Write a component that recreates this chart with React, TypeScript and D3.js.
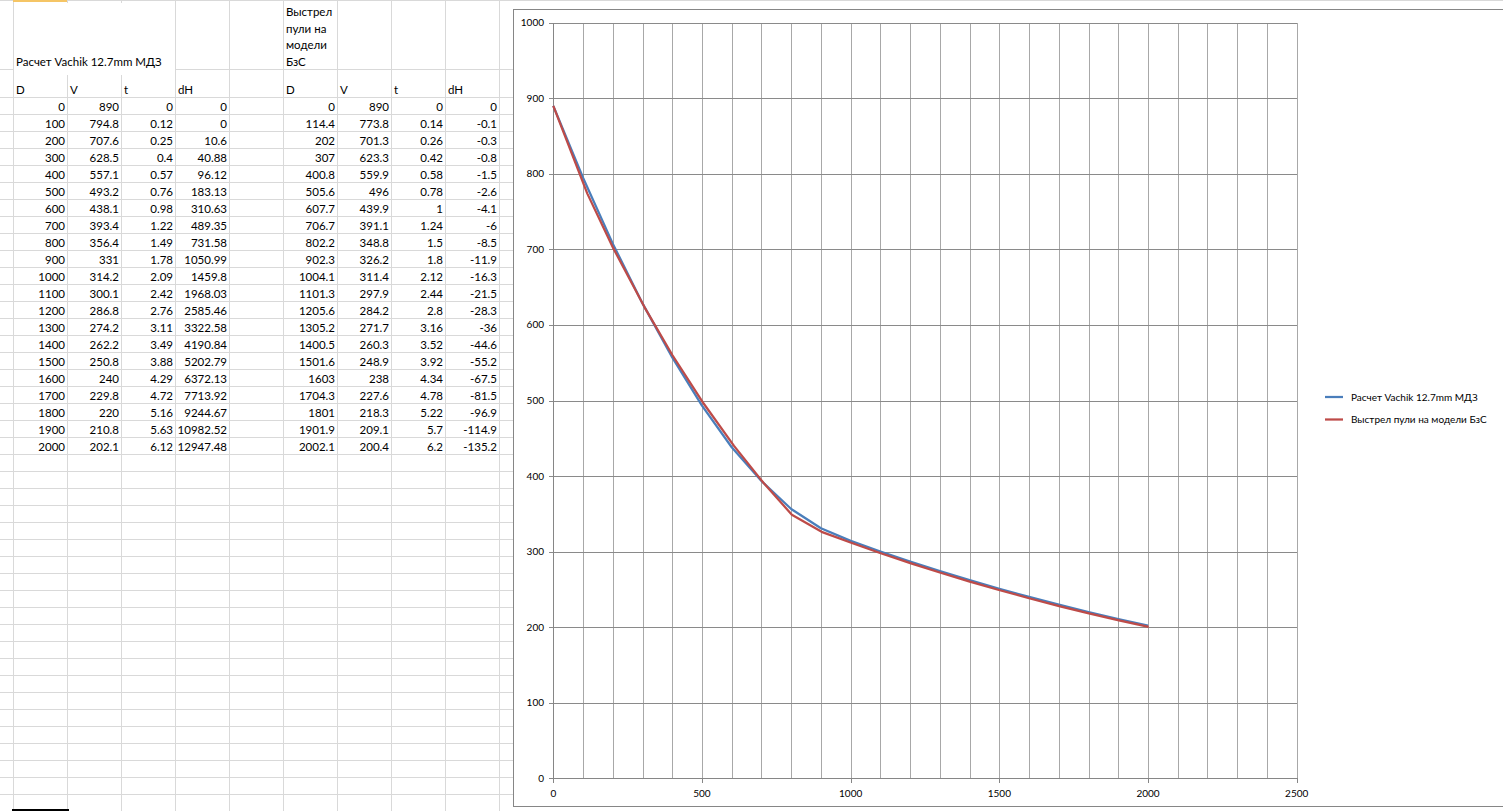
import React from "react";
import * as d3 from "d3";

const title1 = "Расчет Vachik 12.7mm МДЗ";
const title2 = "Выстрел пули на модели БзС";
const title2Lines = ["Выстрел", "пули на", "модели", "БзС"];
const headers = ["D", "V", "t", "dH"];

const D1 = [0, 100, 200, 300, 400, 500, 600, 700, 800, 900, 1000, 1100, 1200, 1300, 1400, 1500, 1600, 1700, 1800, 1900, 2000];
const V1 = [890, 794.8, 707.6, 628.5, 557.1, 493.2, 438.1, 393.4, 356.4, 331, 314.2, 300.1, 286.8, 274.2, 262.2, 250.8, 240, 229.8, 220, 210.8, 202.1];
const T1 = [0, 0.12, 0.25, 0.4, 0.57, 0.76, 0.98, 1.22, 1.49, 1.78, 2.09, 2.42, 2.76, 3.11, 3.49, 3.88, 4.29, 4.72, 5.16, 5.63, 6.12];
const DH1 = [0, 0, 10.6, 40.88, 96.12, 183.13, 310.63, 489.35, 731.58, 1050.99, 1459.8, 1968.03, 2585.46, 3322.58, 4190.84, 5202.79, 6372.13, 7713.92, 9244.67, 10982.52, 12947.48];

const D2 = [0, 114.4, 202, 307, 400.8, 505.6, 607.7, 706.7, 802.2, 902.3, 1004.1, 1101.3, 1205.6, 1305.2, 1400.5, 1501.6, 1603, 1704.3, 1801, 1901.9, 2002.1];
const V2 = [890, 773.8, 701.3, 623.3, 559.9, 496, 439.9, 391.1, 348.8, 326.2, 311.4, 297.9, 284.2, 271.7, 260.3, 248.9, 238, 227.6, 218.3, 209.1, 200.4];
const T2 = [0, 0.14, 0.26, 0.42, 0.58, 0.78, 1, 1.24, 1.5, 1.8, 2.12, 2.44, 2.8, 3.16, 3.52, 3.92, 4.34, 4.78, 5.22, 5.7, 6.2];
const DH2 = [0, -0.1, -0.3, -0.8, -1.5, -2.6, -4.1, -6, -8.5, -11.9, -16.3, -21.5, -28.3, -36, -44.6, -55.2, -67.5, -81.5, -96.9, -114.9, -135.2];

const xTicks = [0, 500, 1000, 1500, 2000, 2500];
const yTicks = [0, 100, 200, 300, 400, 500, 600, 700, 800, 900, 1000];

const W = 1503;
const H = 811;
const SHEET_FONT = "Lato, 'Open Sans', sans-serif";
const COL_X = [13, 67, 121, 175, 229, 283, 337, 391, 445, 499];
const ROW_H = 17;
const DATA_TOP = 97;
const GRID = "#d9d9d9";

export default function App() {
  const x = d3.scaleLinear().domain([0, 2500]).range([553.3, 1296.7]);
  const y = d3.scaleLinear().domain([0, 1000]).range([778.3, 22.7]);
  const line = d3
    .line<[number, number]>()
    .x((d) => x(d[0]))
    .y((d) => y(d[1]));
  const s1: [number, number][] = D1.map((d, i) => [d, V1[i]]);
  const s2: [number, number][] = D2.map((d, i) => [d, V2[i]]);
  const minorX = d3.range(0, 2501, 100);

  // spreadsheet row lines
  const rowLines: number[] = [];
  for (let yy = DATA_TOP; yy <= H; yy += ROW_H) rowLines.push(yy);

  const tables = [
    { col0: 1, data: [D1, V1, T1, DH1] },
    { col0: 6, data: [D2, V2, T2, DH2] },
  ];

  return (
    <svg
      width={W}
      height={H}
      style={{ position: "absolute", left: 0, top: 0, background: "#fff" }}
      fontFamily={SHEET_FONT}
    >
      <rect x={0} y={0} width={W} height={H} fill="#fff" />
      {/* sheet grid */}
      <g stroke={GRID} strokeWidth={1} shapeRendering="crispEdges">
        <line x1={0} x2={W} y1={0.5} y2={0.5} />
        <line x1={0} x2={13} y1={69.5} y2={69.5} />
        <line x1={175} x2={W} y1={69.5} y2={69.5} />
        {rowLines.map((r) => (
          <line key={r} x1={0} x2={W} y1={r + 0.5} y2={r + 0.5} />
        ))}
        {COL_X.map((c) =>
          c === 67 || c === 121 ? (
            <g key={c}>
              <line x1={c + 0.5} x2={c + 0.5} y1={0} y2={3} />
              <line x1={c + 0.5} x2={c + 0.5} y1={75} y2={H} />
            </g>
          ) : (
            <line key={c} x1={c + 0.5} x2={c + 0.5} y1={0} y2={H} />
          )
        )}
      </g>
      <rect x={13} y={0} width={54} height={2} fill="#f5c565" />
      <rect x={12} y={809} width={57} height={2} fill="#000" />

      {/* sheet text */}
      <g fontSize={11.5} fill="#000">
        <text x={16} y={66}>{title1}</text>
        {title2Lines.map((t, i) => (
          <text key={t} x={286} y={16 + i * 16.6}>{t}</text>
        ))}
        {[0, 1].map((k) =>
          headers.map((h, j) => (
            <text key={k + h} x={COL_X[k * 5 + j] + 3} y={94}>{h}</text>
          ))
        )}
        {tables.map((tb, ti) =>
          tb.data.map((col, j) =>
            col.map((v, i) => (
              <text
                key={ti + "-" + j + "-" + i}
                x={COL_X[tb.col0 + j] - 2}
                y={DATA_TOP + i * ROW_H + 13.5}
                textAnchor="end"
              >
                {String(v)}
              </text>
            ))
          )
        )}
      </g>

      {/* chart */}
      <rect x={513.5} y={9.5} width={W} height={797} fill="#fff" stroke="#868686" strokeWidth={1} />
      <g shapeRendering="crispEdges" strokeWidth={1}>
        {minorX.map((v) => (
          <line key={"vx" + v} x1={Math.round(x(v)) + 0.5} x2={Math.round(x(v)) + 0.5} y1={y(1000)} y2={y(0)} stroke="#a8a8a8" />
        ))}
        {yTicks.map((v) => (
          <line key={"hy" + v} x1={x(0) - 4} x2={x(2500)} y1={Math.round(y(v)) + 0.5} y2={Math.round(y(v)) + 0.5} stroke="#8a8a8a" />
        ))}
        {xTicks.map((v) => (
          <line key={"tx" + v} x1={Math.round(x(v)) + 0.5} x2={Math.round(x(v)) + 0.5} y1={y(0)} y2={y(0) + 5} stroke="#868686" />
        ))}
        <line x1={Math.round(x(0)) + 0.5} x2={Math.round(x(0)) + 0.5} y1={y(1000)} y2={y(0) + 5} stroke="#868686" />
        <line x1={x(0) - 4} x2={x(2500)} y1={Math.round(y(0)) + 0.5} y2={Math.round(y(0)) + 0.5} stroke="#868686" />
      </g>
      <g fontSize={10} fill="#000">
        {yTicks.map((v) => (
          <text key={"yl" + v} x={544} y={y(v) + 3.5} textAnchor="end">{v}</text>
        ))}
        {xTicks.map((v) => (
          <text key={"xl" + v} x={x(v)} y={797} textAnchor="middle">{v}</text>
        ))}
      </g>
      <path d={line(s1) || ""} fill="none" stroke="#4a7ebb" strokeWidth={2.25} strokeLinejoin="round" />
      <path d={line(s2) || ""} fill="none" stroke="#be4b48" strokeWidth={2.25} strokeLinejoin="round" />

      {/* legend */}
      <g fontSize={10} fill="#000">
        <line x1={1325} x2={1343} y1={397} y2={397} stroke="#4a7ebb" strokeWidth={2.25} />
        <text x={1351} y={400.5}>{title1}</text>
        <line x1={1325} x2={1343} y1={419.5} y2={419.5} stroke="#be4b48" strokeWidth={2.25} />
        <text x={1351} y={423}>{title2}</text>
      </g>
    </svg>
  );
}
